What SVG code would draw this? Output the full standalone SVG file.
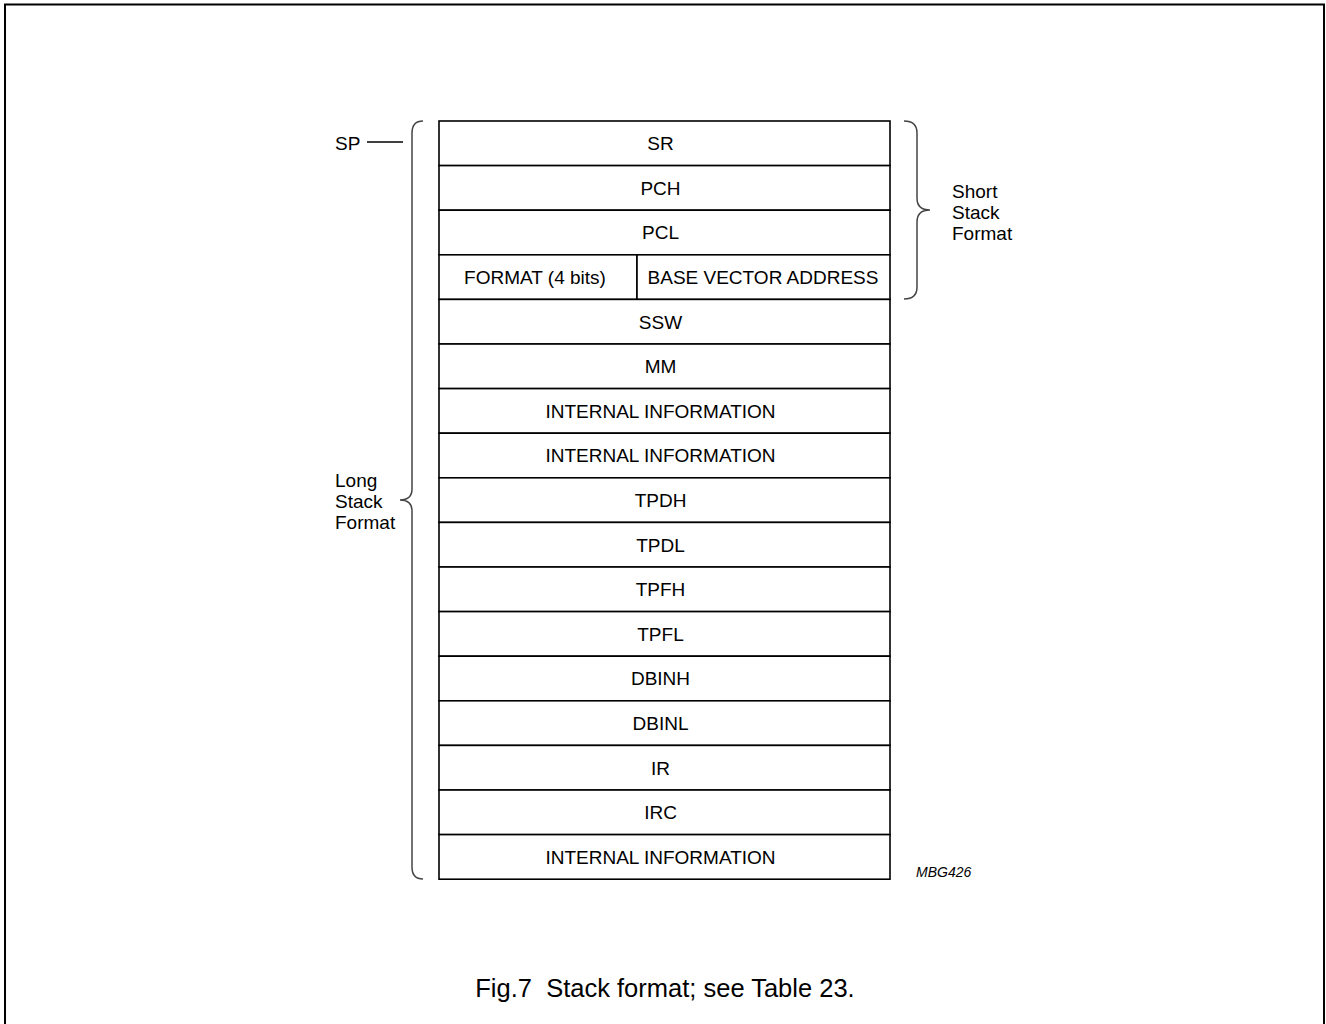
<svg xmlns="http://www.w3.org/2000/svg" width="1326" height="1024" viewBox="0 0 1326 1024">
<style>
text{font-family:"Liberation Sans",Arial,sans-serif;fill:#000}
.c{font-size:19px;text-anchor:middle}
.l{font-size:19px}
.cell{fill:#fff;stroke:#000;stroke-width:1.6}
.br{fill:none;stroke:#444;stroke-width:1.5}
</style>
<rect width="1326" height="1024" fill="#fff"/>
<path d="M5,1024 V4.5 H1324 V1024" fill="none" stroke="#000" stroke-width="2"/>
<g id="stack">
<g id="r1"><rect class="cell" x="439" y="121" width="451" height="44.6"/><text class="c" x="660.5" y="150">SR</text></g>
<g id="r2"><rect class="cell" x="439" y="165.6" width="451" height="44.6"/><text class="c" x="660.5" y="194.5">PCH</text></g>
<g id="r3"><rect class="cell" x="439" y="210.2" width="451" height="44.6"/><text class="c" x="660.5" y="239">PCL</text></g>
<g id="r4"><rect class="cell" x="439" y="254.8" width="198" height="44.6"/><text class="c" x="535" y="283.5">FORMAT (4 bits)</text><rect class="cell" x="637" y="254.8" width="253" height="44.6"/><text class="c" x="763" y="283.5">BASE VECTOR ADDRESS</text></g>
<g id="r5"><rect class="cell" x="439" y="299.4" width="451" height="44.6"/><text class="c" x="660.5" y="328.5">SSW</text></g>
<g id="r6"><rect class="cell" x="439" y="344" width="451" height="44.6"/><text class="c" x="660.5" y="373">MM</text></g>
<g id="r7"><rect class="cell" x="439" y="388.6" width="451" height="44.6"/><text class="c" x="660.5" y="417.5">INTERNAL INFORMATION</text></g>
<g id="r8"><rect class="cell" x="439" y="433.2" width="451" height="44.6"/><text class="c" x="660.5" y="462">INTERNAL INFORMATION</text></g>
<g id="r9"><rect class="cell" x="439" y="477.8" width="451" height="44.6"/><text class="c" x="660.5" y="506.5">TPDH</text></g>
<g id="r10"><rect class="cell" x="439" y="522.4" width="451" height="44.6"/><text class="c" x="660.5" y="551.5">TPDL</text></g>
<g id="r11"><rect class="cell" x="439" y="567" width="451" height="44.6"/><text class="c" x="660.5" y="596">TPFH</text></g>
<g id="r12"><rect class="cell" x="439" y="611.6" width="451" height="44.6"/><text class="c" x="660.5" y="640.5">TPFL</text></g>
<g id="r13"><rect class="cell" x="439" y="656.2" width="451" height="44.6"/><text class="c" x="660.5" y="685">DBINH</text></g>
<g id="r14"><rect class="cell" x="439" y="700.8" width="451" height="44.6"/><text class="c" x="660.5" y="729.5">DBINL</text></g>
<g id="r15"><rect class="cell" x="439" y="745.4" width="451" height="44.6"/><text class="c" x="660.5" y="774.5">IR</text></g>
<g id="r16"><rect class="cell" x="439" y="790" width="451" height="44.6"/><text class="c" x="660.5" y="819">IRC</text></g>
<g id="r17"><rect class="cell" x="439" y="834.6" width="451" height="44.6"/><text class="c" x="660.5" y="863.5">INTERNAL INFORMATION</text></g>
</g>
<g id="connectors">
<line x1="367" y1="142" x2="403" y2="142" stroke="#000" stroke-width="1.3"/>
<path class="br" d="M423,121 Q412,121 412,133 L412,489 Q412,500 400,500 Q412,500 412,511 L412,867 Q412,879 423,879"/>
<path class="br" d="M904,121 Q917,121 917,133 L917,198 Q917,210 930,210 Q917,210 917,222 L917,287 Q917,299 904,299"/>
</g>
<g id="labels">
<text class="l" x="335" y="149.5">SP</text>
<text class="l" x="952" y="197.5">Short</text>
<text class="l" x="952" y="218.5">Stack</text>
<text class="l" x="952" y="239.5">Format</text>
<text class="l" x="335" y="486.5">Long</text>
<text class="l" x="335" y="507.5">Stack</text>
<text class="l" x="335" y="528.5">Format</text>
<text x="916" y="877" font-size="14" font-style="italic">MBG426</text>
<text x="665" y="997" font-size="25.5" text-anchor="middle" xml:space="preserve">Fig.7  Stack format; see Table 23.</text>
</g>
</svg>
